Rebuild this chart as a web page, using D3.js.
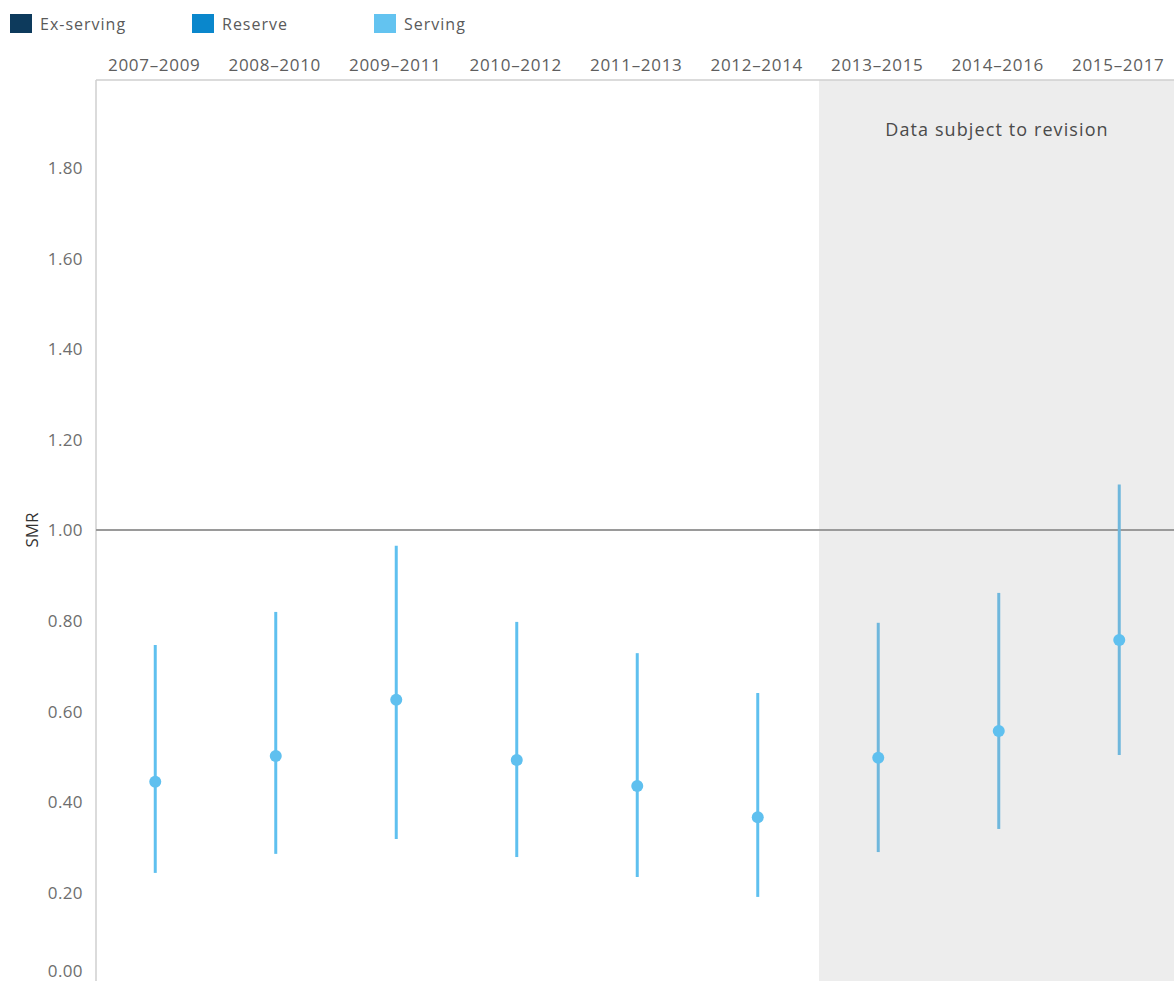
<!DOCTYPE html>
<html>
<head>
<meta charset="utf-8">
<script src="https://cdn.jsdelivr.net/npm/d3@7"></script>
<style>
  body { margin: 0; background: #fff; }
  svg { display: block; font-family: "Open Sans", sans-serif; }
</style>
</head>
<body>
<div id="graph"></div>
<script>
// periods shown as column headers
var periods = ["2007–2009", "2008–2010", "2009–2011", "2010–2012", "2011–2013",
               "2012–2014", "2013–2015", "2014–2016", "2015–2017"];
// Serving: SMR estimate and confidence interval
var smr   = [0.444, 0.501, 0.625, 0.492, 0.435, 0.366, 0.497, 0.556, 0.757];
var lower = [0.243, 0.285, 0.318, 0.278, 0.234, 0.190, 0.289, 0.340, 0.503];
var upper = [0.746, 0.819, 0.965, 0.797, 0.728, 0.640, 0.795, 0.861, 1.100];
var yTicks = [0, 0.2, 0.4, 0.6, 0.8, 1.0, 1.2, 1.4, 1.6, 1.8];
var legendNames = ["Ex-serving", "Reserve", "Serving"];
var legendColors = ["#0d3a5c", "#0a87cc", "#63c3f0"];
var revisionFrom = "2013–2015";

function render() {
  var width = 1174, height = 981;
  var padLeft = 96, padTop = 80;

  var svg = d3.select("#graph").append("svg")
    .attr("width", width).attr("height", height);

  var x = d3.scaleBand().domain(periods).range([padLeft, padLeft + 9 * 120.5]);
  var y = d3.scaleLinear().domain([0, 1.993]).range([983, padTop]);

  // shaded revision area
  svg.append("rect")
    .attr("x", x(revisionFrom)).attr("y", padTop)
    .attr("width", width - x(revisionFrom)).attr("height", height - padTop)
    .attr("fill", "#ededed");

  svg.append("text")
    .attr("x", 997).attr("y", 136)
    .attr("text-anchor", "middle").attr("fill", "#4a4a4a")
    .attr("font-size", 18).attr("letter-spacing", 1.1)
    .text("Data subject to revision");

  // legend
  var leg = svg.selectAll(".leg").data(legendNames).enter().append("g")
    .attr("class", "leg")
    .attr("transform", function(d, i) { return "translate(" + (10 + i * 182) + ",14)"; });
  leg.append("rect").attr("width", 22).attr("height", 19)
    .attr("fill", function(d, i) { return legendColors[i]; });
  leg.append("text").attr("x", 30).attr("y", 16)
    .attr("fill", "#5a5a5a").attr("font-size", 16).attr("letter-spacing", 1)
    .text(function(d) { return d; });

  // column headers
  svg.selectAll(".hdr").data(periods).enter().append("text")
    .attr("class", "hdr")
    .attr("x", function(d) { return x(d) + x.bandwidth() / 2 - 2; })
    .attr("y", 71)
    .attr("text-anchor", "middle").attr("fill", "#5e5e5e")
    .attr("font-size", 17).attr("letter-spacing", 0.7)
    .text(function(d) { return d; });

  svg.append("line").attr("x1", padLeft).attr("x2", width).attr("y1", padTop).attr("y2", padTop)
    .attr("stroke", "#cfcfcf").attr("stroke-width", 1.5);
  svg.append("line").attr("x1", padLeft).attr("x2", padLeft).attr("y1", padTop).attr("y2", height)
    .attr("stroke", "#cfcfcf").attr("stroke-width", 1.5);

  // y axis labels
  var yAxis = d3.axisLeft(y).tickValues(yTicks).tickFormat(d3.format(".2f"))
    .tickSize(0).tickPadding(13);
  var ya = svg.append("g").attr("transform", "translate(" + padLeft + ",0)").call(yAxis);
  ya.select(".domain").remove();
  ya.selectAll("text").attr("fill", "#6e6e6e").attr("font-size", 17).attr("letter-spacing", 0.4)
    .attr("font-family", "'Open Sans', sans-serif")
    .attr("dy", function(d) { return d === 0 ? "-0.4em" : "0.35em"; });

  svg.append("text")
    .attr("transform", "translate(38,530) rotate(-90)")
    .attr("text-anchor", "middle").attr("fill", "#333").attr("font-size", 17)
    .text("SMR");

  // reference line at 1.00
  svg.append("line").attr("x1", padLeft).attr("x2", width)
    .attr("y1", y(1)).attr("y2", y(1))
    .attr("stroke", "#9a9a9a").attr("stroke-width", 2);

  // error bars and points
  var cx = function(d, i) { return x(periods[i]) + x.bandwidth() / 2 - 1; };
  svg.selectAll(".bar").data(smr).enter().append("line")
    .attr("class", "bar")
    .attr("x1", cx).attr("x2", cx)
    .attr("y1", function(d, i) { return y(upper[i]); })
    .attr("y2", function(d, i) { return y(lower[i]); })
    .attr("stroke", function(d, i) { return i >= 6 ? "#6fb7dc" : "#5fc0ef"; })
    .attr("stroke-width", 3);

  svg.selectAll(".pt").data(smr).enter().append("circle")
    .attr("class", "pt")
    .attr("cx", cx).attr("cy", function(d) { return y(d); })
    .attr("r", 6).attr("fill", "#5fc0ef");
}

render();
</script>
</body>
</html>
